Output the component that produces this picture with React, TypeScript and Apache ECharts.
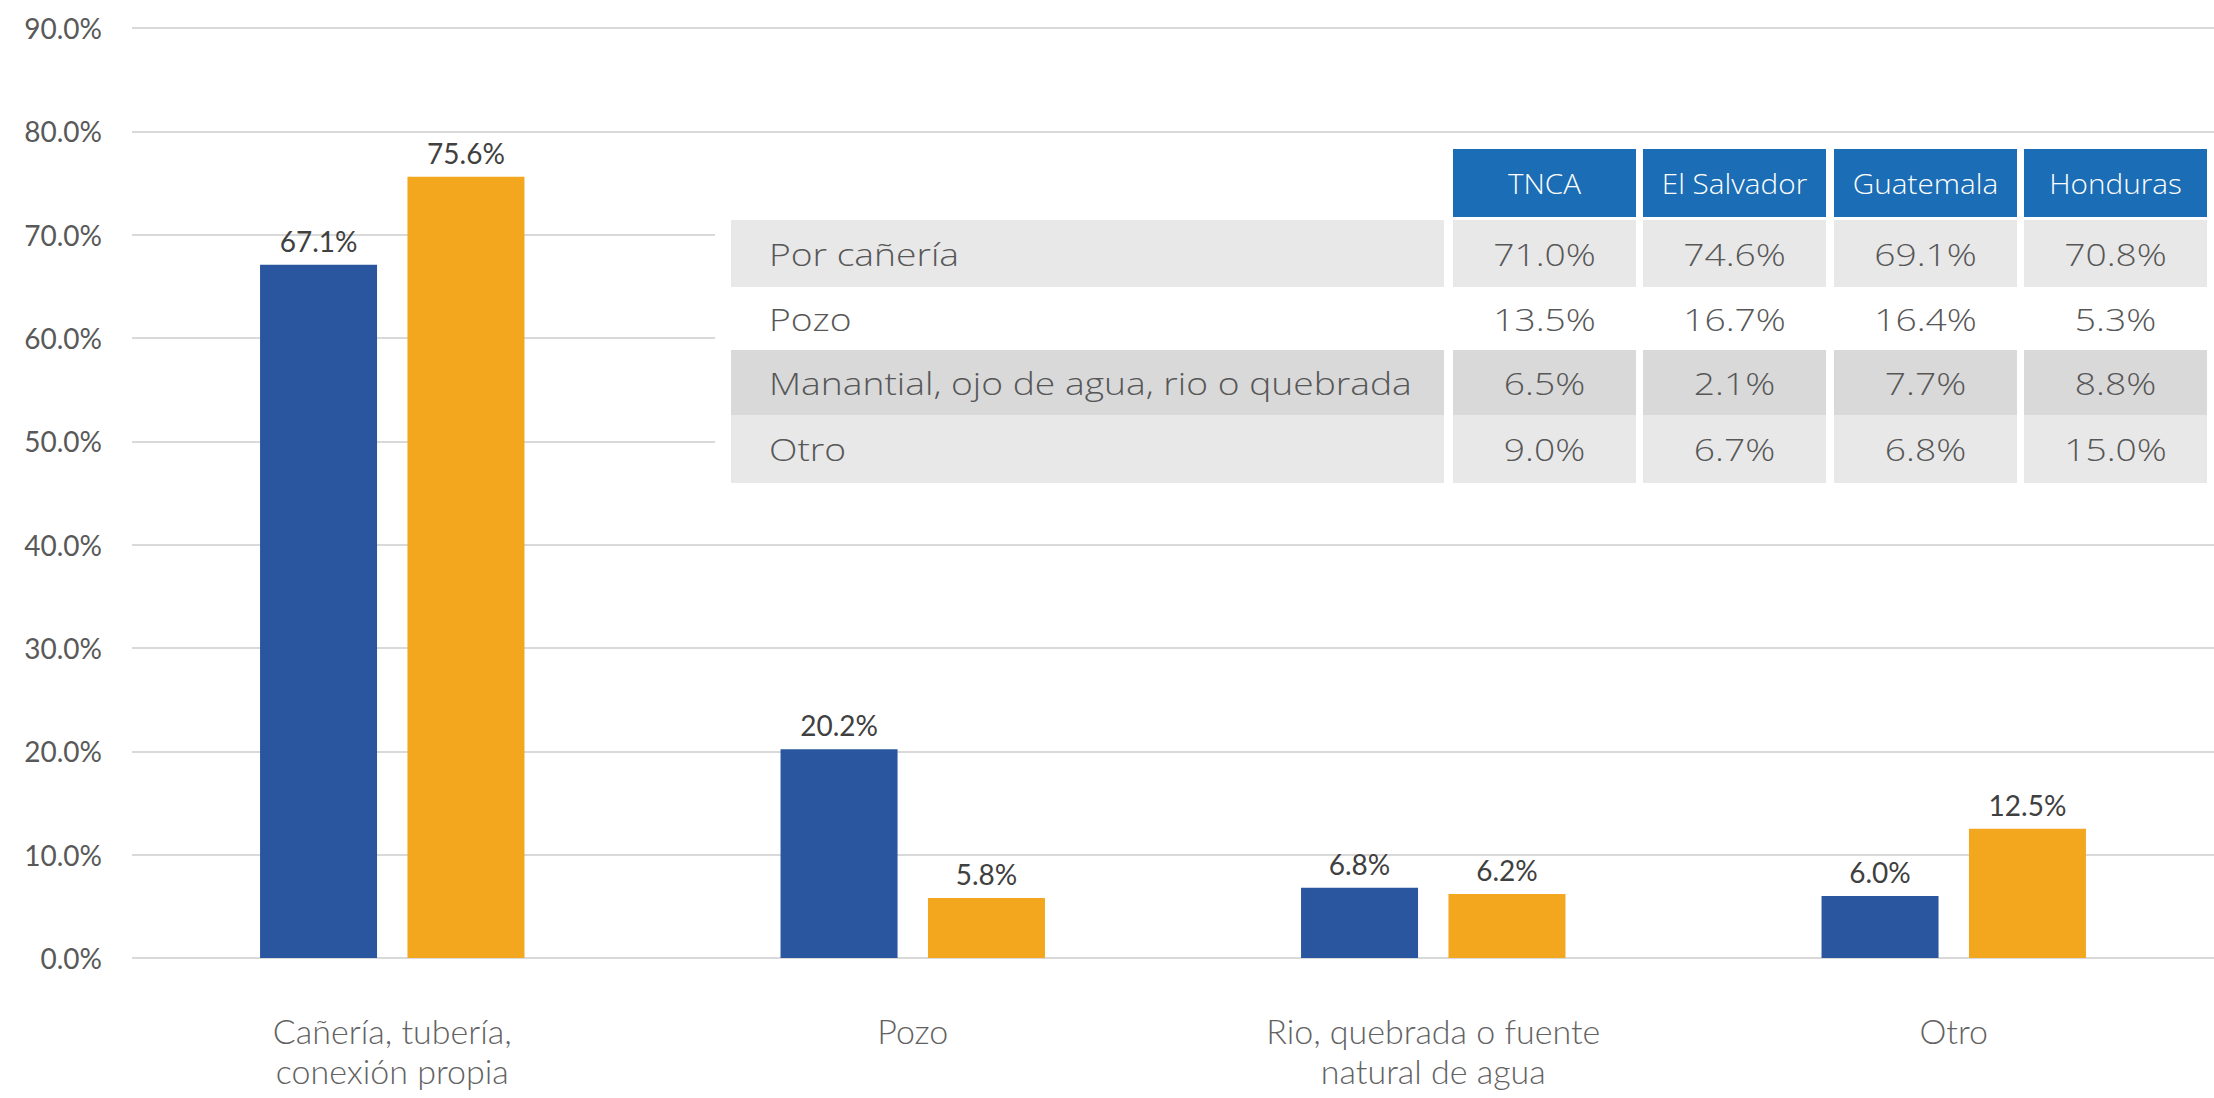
import React, { useEffect, useRef } from "react";
import * as echarts from "echarts";

const categories = [
  "Cañería, tubería,\nconexión propia",
  "Pozo",
  "Rio, quebrada o fuente\nnatural de agua",
  "Otro",
];
const blueValues = [67.1, 20.2, 6.8, 6.0];
const orangeValues = [75.6, 5.8, 6.2, 12.5];
const yMin = 0;
const yMax = 90;
const yInterval = 10;

const tableHeaders = ["TNCA", "El Salvador", "Guatemala", "Honduras"];
const tableRowLabels = [
  "Por cañería",
  "Pozo",
  "Manantial, ojo de agua, rio o quebrada",
  "Otro",
];
const tncaValues = [71.0, 13.5, 6.5, 9.0];
const elSalvadorValues = [74.6, 16.7, 2.1, 6.7];
const guatemalaValues = [69.1, 16.4, 7.7, 6.8];
const hondurasValues = [70.8, 5.3, 8.8, 15.0];

const W = 2214;
const H = 1098;

function buildTable() {
  const cols = [tncaValues, elSalvadorValues, guatemalaValues, hondurasValues];
  const labelX0 = 731;
  const labelX1 = 1444;
  const colX = [1453, 1643, 1834, 2024];
  const colW = 183;
  const headerY = 149;
  const headerH = 68;
  const rowYs = [220, 287, 350, 415];
  const rowHs = [67, 63, 65, 68];
  const rowFills = ["#e8e8e8", "#ffffff", "#d9d9d9", "#e8e8e8"];
  const textColor = "#575757";
  const font = "'Open Sans', 'Noto Sans', sans-serif";
  const els: any[] = [];
  els.push({
    type: "rect",
    shape: { x: 715, y: 138, width: W - 715, height: 395 },
    style: { fill: "#ffffff" },
    z: 100,
  });
  tableHeaders.forEach((h, i) => {
    els.push({
      type: "rect",
      shape: { x: colX[i], y: headerY, width: colW, height: headerH },
      style: { fill: "#1b6db5" },
      z: 101,
    });
    els.push({
      type: "text",
      x: colX[i] + colW / 2,
      y: headerY + headerH / 2,
      scaleX: 1.06,
      style: {
        text: h,
        fill: "#ffffff",
        font: `300 28px ${font}`,
        align: "center",
        verticalAlign: "middle",
      },
      z: 102,
    });
  });
  tableRowLabels.forEach((lab, r) => {
    const y = rowYs[r];
    const rh = rowHs[r];
    els.push({
      type: "rect",
      shape: { x: labelX0, y, width: labelX1 - labelX0, height: rh },
      style: { fill: rowFills[r] },
      z: 101,
    });
    els.push({
      type: "text",
      x: 769,
      y: y + rh / 2,
      scaleX: 1.2,
      style: {
        text: lab,
        fill: textColor,
        font: `300 31px ${font}`,
        align: "left",
        verticalAlign: "middle",
      },
      z: 102,
    });
    cols.forEach((vals, c) => {
      els.push({
        type: "rect",
        shape: { x: colX[c], y, width: colW, height: rh },
        style: { fill: rowFills[r] },
        z: 101,
      });
      els.push({
        type: "text",
        x: colX[c] + colW / 2,
        y: y + rh / 2,
        scaleX: 1.2,
        style: {
          text: vals[r].toFixed(1) + "%",
          fill: textColor,
          font: `300 31px ${font}`,
          align: "center",
          verticalAlign: "middle",
        },
        z: 102,
      });
    });
  });
  return els;
}

export default function App() {
  const ref = useRef<HTMLDivElement>(null);
  useEffect(() => {
    if (!ref.current) return;
    const chart = echarts.init(ref.current, undefined, { renderer: "svg" });
    const labelFont = "Lato, 'Open Sans', sans-serif";
    const barLabel = {
      show: true,
      position: "top",
      distance: 10,
      color: "#404040",
      fontSize: 28,
      fontFamily: labelFont,
      formatter: (p: any) => Number(p.value).toFixed(1) + "%",
    };
    chart.setOption({
      animation: false,
      backgroundColor: "#ffffff",
      grid: { left: 132, right: 0, top: 28, bottom: H - 958, containLabel: false },
      xAxis: {
        type: "category",
        data: categories,
        axisLine: { show: false },
        axisTick: { show: false },
        axisLabel: {
          interval: 0,
          margin: 52,
          color: "#626262",
          fontSize: 34,
          lineHeight: 40,
          fontFamily: labelFont,
          fontWeight: 300,
        },
      },
      yAxis: {
        type: "value",
        min: yMin,
        max: yMax,
        interval: yInterval,
        axisLine: { show: false },
        axisTick: { show: false },
        axisLabel: {
          color: "#595959",
          fontSize: 28,
          margin: 30,
          fontFamily: labelFont,
          formatter: (v: number) => v.toFixed(1) + "%",
        },
        splitLine: { lineStyle: { color: "#d9d9d9", width: 2 } },
      },
      series: [
        {
          name: "Serie azul",
          type: "bar",
          data: blueValues,
          barWidth: 117,
          barGap: "26%",
          itemStyle: { color: "#2a56a0" },
          label: barLabel,
        },
        {
          name: "Serie naranja",
          type: "bar",
          data: orangeValues,
          barWidth: 117,
          itemStyle: { color: "#f2a71e" },
          label: barLabel,
        },
      ],
      graphic: buildTable(),
    });
    return () => chart.dispose();
  }, []);
  return (
    <div
      ref={ref}
      style={{ position: "fixed", left: 0, top: 0, width: W, height: H, background: "#fff" }}
    />
  );
}
